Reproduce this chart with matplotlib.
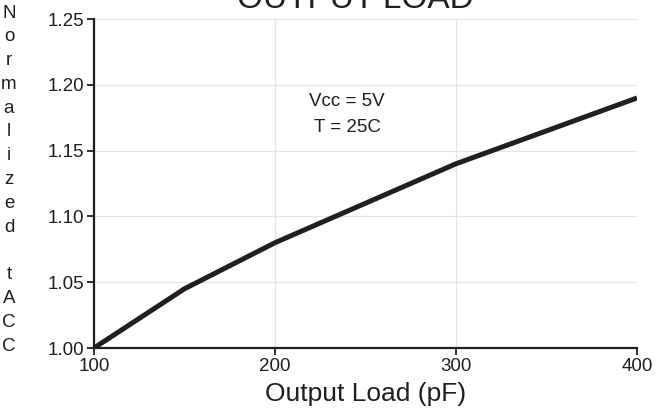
import matplotlib
matplotlib.use('Agg')
import matplotlib.pyplot as plt

plt.rcParams['font.family'] = ['Liberation Sans', 'DejaVu Sans']

# 数据
load_pf = [100, 150, 200, 250, 300, 400]
tacc_norm = [1.00, 1.045, 1.08, 1.11, 1.14, 1.19]
x_ticks = [100, 200, 300, 400]
y_ticks = [1.00, 1.05, 1.10, 1.15, 1.20, 1.25]
y_label_letters = list('Normalized') + [''] + list('tACC')

ink = '#231f20'

fig = plt.figure(figsize=(6.67, 4.19), dpi=100)
ax = fig.add_axes([94 / 667, 1 - 348 / 419, 543 / 667, 329 / 419])

ax.plot(load_pf, tacc_norm, color=ink, linewidth=3.6, solid_capstyle='butt', zorder=3)

ax.set_xlim(100, 400)
ax.set_ylim(1.00, 1.25)
ax.set_xticks(x_ticks)
ax.set_yticks(y_ticks)
ax.set_xticklabels([str(v) for v in x_ticks])
ax.set_yticklabels(['%.2f' % v for v in y_ticks])

# 网格和边框
ax.grid(True, color='#e4e4e4', linewidth=0.9)
ax.set_axisbelow(True)
for s in ['top', 'right']:
    ax.spines[s].set_visible(False)
for s in ['left', 'bottom']:
    ax.spines[s].set_color(ink)
    ax.spines[s].set_linewidth(1.6)
    ax.spines[s].set_zorder(4)
ax.tick_params(axis='both', direction='out', length=5, width=1.3, colors=ink,
               labelsize=13.5, labelcolor=ink, pad=2)

ax.set_xlabel('Output Load (pF)', fontsize=19, color=ink, labelpad=5)

# 纵轴标题，竖排逐字
top_y, step = 13, 23.8
for i, ch in enumerate(y_label_letters):
    if ch:
        fig.text(9 / 667, 1 - (top_y + i * step) / 419, ch, ha='center', va='center',
                 fontsize=13.5, color=ink)

# 条件说明
fig.text(347 / 667, 1 - 102 / 419, 'Vcc = 5V', ha='center', va='center', fontsize=13.5, color=ink)
fig.text(347 / 667, 1 - 128 / 419, 'T = 25C', ha='center', va='center', fontsize=13.5, color=ink)

# 标题被顶部截掉一部分
fig.text(355 / 667, 1 - 8 / 419, 'OUTPUT LOAD', ha='center', va='baseline',
         fontsize=24, color=ink)

plt.savefig('out.png', dpi=100)
